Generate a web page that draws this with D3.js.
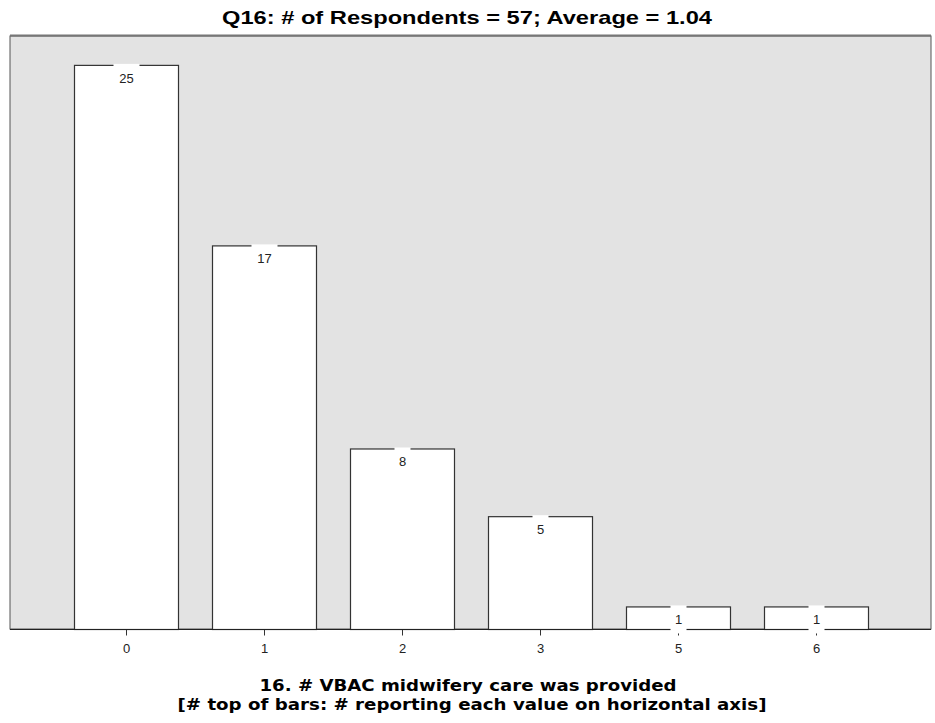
<!DOCTYPE html>
<html><head><meta charset="utf-8">
<script src="https://cdn.jsdelivr.net/npm/d3@7"></script>
<style>body{margin:0;background:#fff}svg{display:block}</style>
</head><body>
<svg id="c" width="935" height="723"></svg>
<script>
const categories = ["0","1","2","3","5","6"];
const counts = [25,17,8,5,1,1];
const title = "Q16: # of Respondents = 57; Average = 1.04";
const xTitle1 = "16. # VBAC midwifery care was provided";
const xTitle2 = "[# top of bars: # reporting each value on horizontal axis]";

const svg = d3.select("#c");
const L = 10, R = 931, T = 36, B = 629;
const x = d3.scaleBand().domain(categories).range([57, 885]).paddingInner(0.2464).paddingOuter(0.1232);
const y = d3.scaleLinear().domain([0, 26.28]).range([B, T]);

svg.append("rect").attr("x", L).attr("y", T).attr("width", R - L).attr("height", B - T)
  .attr("fill", "#e3e3e3").attr("stroke", "#555").attr("stroke-width", 1);
svg.append("line").attr("x1", L).attr("x2", R).attr("y1", T - 0.5).attr("y2", T - 0.5).attr("stroke", "#777").attr("stroke-width", 2);

const data = categories.map((c, i) => ({c, v: counts[i]}));
svg.selectAll("rect.bar").data(data).join("rect").attr("class", "bar")
  .attr("x", d => x(d.c) + 0.5).attr("y", d => y(d.v) + 0.5)
  .attr("width", x.bandwidth()).attr("height", d => B - y(d.v))
  .attr("fill", "#fff").attr("stroke", "#333").attr("stroke-width", 1.2);

const ax = svg.append("g").attr("transform", `translate(0.5,${B + 0.5})`)
  .call(d3.axisBottom(x).tickSize(6).tickPadding(8));
ax.select(".domain").remove();
ax.append("line").attr("x1", L - 0.5).attr("x2", R - 0.5).attr("stroke", "#222");
ax.selectAll(".tick line").attr("stroke", "#333");
ax.selectAll(".tick text").attr("font-family", "Liberation Sans, Arial, sans-serif").attr("font-size", 13).attr("fill", "#222");

const lab = svg.selectAll("g.lab").data(data).join("g").attr("class", "lab")
  .attr("transform", d => `translate(${x(d.c) + x.bandwidth() / 2 + 0.5},${y(d.v)})`);
lab.append("rect").attr("x", d => d.v >= 10 ? -13 : -8).attr("y", -1)
  .attr("width", d => d.v >= 10 ? 26 : 16).attr("height", 28).attr("fill", "#fff");
lab.append("text").attr("y", 18).attr("text-anchor", "middle")
  .attr("font-family", "Liberation Sans, Arial, sans-serif").attr("font-size", 13).attr("fill", "#222")
  .text(d => d.v);

svg.append("text").attr("x", 467).attr("y", 24).attr("text-anchor", "middle")
  .attr("font-family", "Liberation Sans, Arial, sans-serif").attr("font-weight", "bold").attr("font-size", 19)
  .attr("textLength", 490).attr("lengthAdjust", "spacingAndGlyphs").attr("fill", "#000").text(title);

svg.append("text").attr("x", 468).attr("y", 691).attr("text-anchor", "middle")
  .attr("font-family", "DejaVu Sans, sans-serif").attr("font-weight", "bold").attr("font-size", 15)
  .attr("textLength", 417).attr("lengthAdjust", "spacingAndGlyphs").attr("fill", "#000").text(xTitle1);
svg.append("text").attr("x", 472).attr("y", 710).attr("text-anchor", "middle")
  .attr("font-family", "DejaVu Sans, sans-serif").attr("font-weight", "bold").attr("font-size", 15)
  .attr("textLength", 589).attr("lengthAdjust", "spacingAndGlyphs").attr("fill", "#000").text(xTitle2);
</script>
</body></html>
